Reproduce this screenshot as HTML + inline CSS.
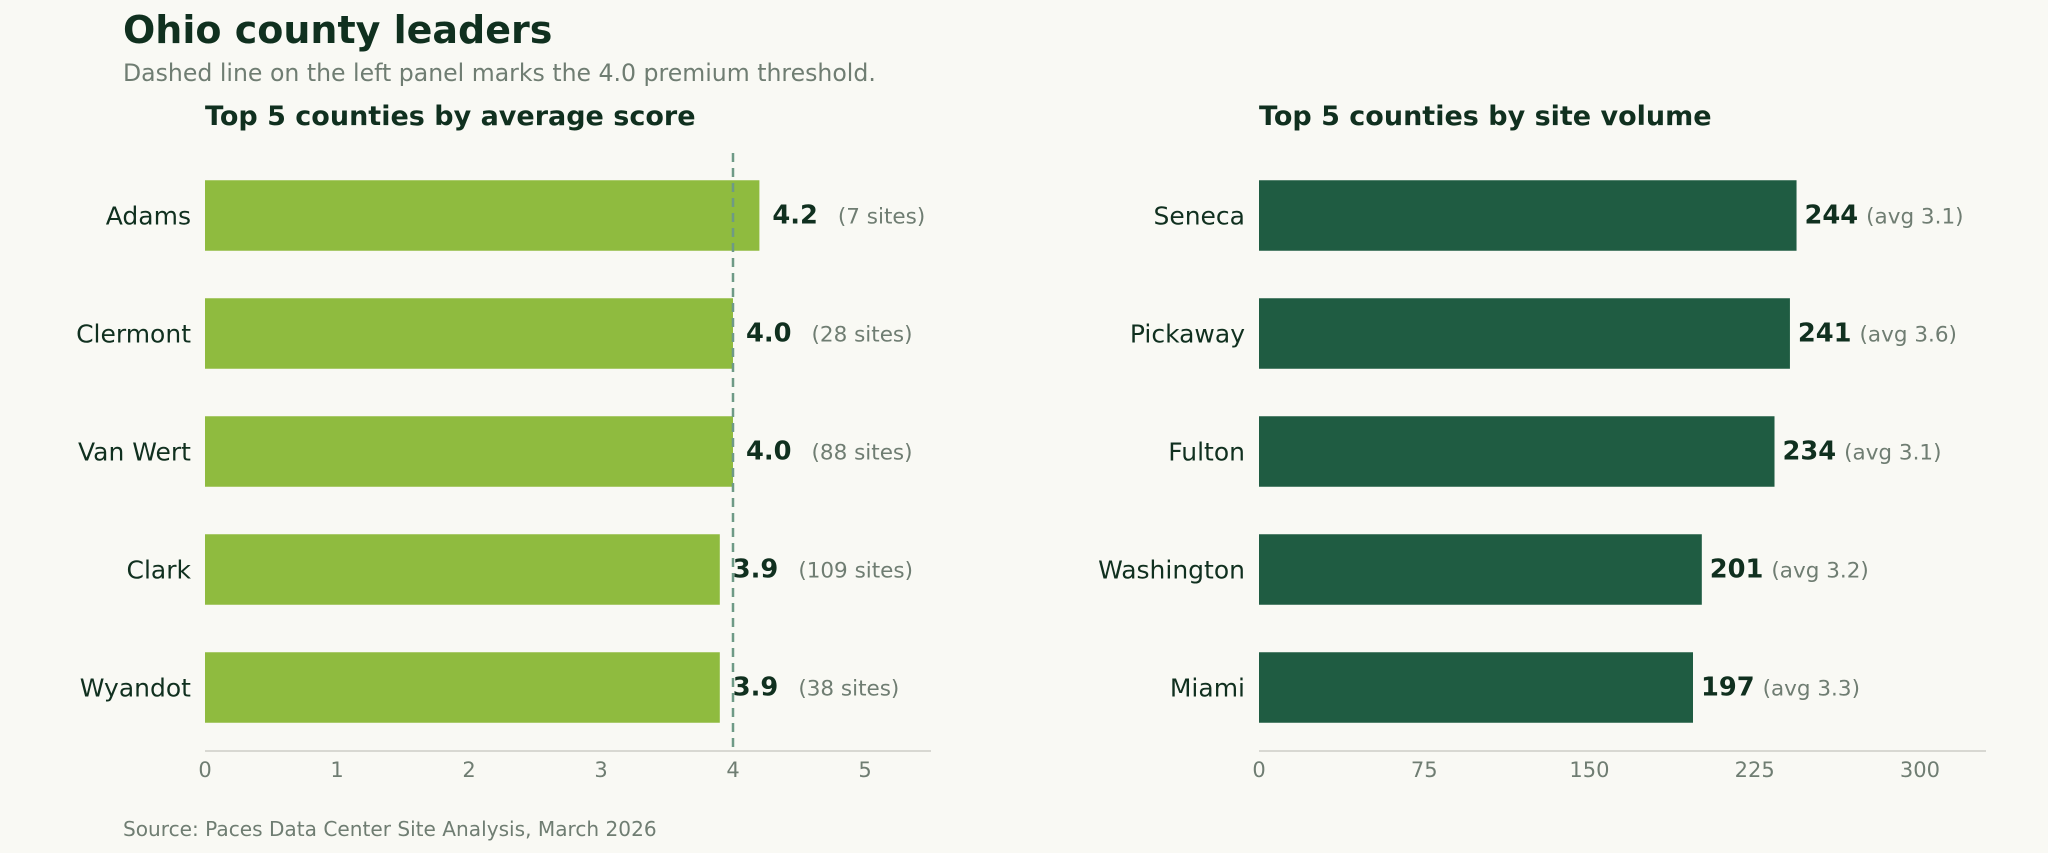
<!DOCTYPE html>
<html><head><meta charset="utf-8"><style>
body{margin:0;background:#f9f9f4;}
svg{display:block;font-family:"DejaVu Sans","Liberation Sans",sans-serif;}
</style></head><body>
<svg id="c" width="2048" height="853" viewBox="0 0 2048 853">
<rect width="2048" height="853" fill="#f9f9f4"/>
<text x="123" y="43" font-size="38" font-weight="bold" fill="#10301f">Ohio county leaders</text>
<text x="123" y="81" font-size="23.6" fill="#6f7d72">Dashed line on the left panel marks the 4.0 premium threshold.</text>
<text x="205" y="125" font-size="27" font-weight="bold" fill="#10301f">Top 5 counties by average score</text>
<text x="1259" y="125" font-size="27" font-weight="bold" fill="#10301f">Top 5 counties by site volume</text>
<text x="123" y="836" font-size="20.1" fill="#6f7d72">Source: Paces Data Center Site Analysis, March 2026</text>
<g id="left"></g>
<g id="right"></g>
</svg>
<script>
const scoreCounties=["Adams","Clermont","Van Wert","Clark","Wyandot"];
const scoreValues=[4.2,4.0,4.0,3.9,3.9];
const scoreSites=[7,28,88,109,38];
const scoreTicks=[0,1,2,3,4,5];
const threshold=4.0;
const volCounties=["Seneca","Pickaway","Fulton","Washington","Miami"];
const volValues=[244,241,234,201,197];
const volAvg=[3.1,3.6,3.1,3.2,3.3];
const volTicks=[0,75,150,225,300];
const NS="http://www.w3.org/2000/svg";
function mk(p,tag,attrs,txt){const e=document.createElementNS(NS,tag);for(const k in attrs)e.setAttribute(k,attrs[k]);if(txt!==undefined)e.textContent=txt;p.appendChild(e);return e;}
const rowY=i=>215.5+i*118;
const barH=70.5, axisY=751;
function panel(g,x0,x1,xmax,cats,vals,color,lbl,note,gapVal,ticks,sep){
  const xs=v=>x0+v*(x1-x0)/xmax;
  cats.forEach((c,i)=>{
    const y=rowY(i);
    const r=mk(g,"rect",{x:x0,y:y-barH/2,width:xs(vals[i])-x0,height:barH,fill:color});
    
    
    const t=mk(g,"text",{x:x0-14,y:y+9,"text-anchor":"end","font-size":25,fill:"#10301f"},c);
    
    
    const v=mk(g,"text",{x:xs(vals[i])+gapVal,y:y+8,"font-size":25.7,"font-weight":"bold",fill:"#10301f"});
    
    
    mk(v,"tspan",{},lbl(vals[i]));
    mk(v,"tspan",{dx:sep,"font-size":21.5,"font-weight":"normal",fill:"#6f7d72"},note(i));
  });
  const a=mk(g,"line",{x1:x0,x2:x1,y1:axisY,y2:axisY,stroke:"#d8d8d2","stroke-width":2});
  
  
  ticks.forEach(tk=>{
    const t=mk(g,"text",{x:xs(tk),y:777,"text-anchor":"middle","font-size":21,fill:"#6f7d72"},String(tk));
    
    
  });
  return xs;
}
const L=document.getElementById("left"),R=document.getElementById("right");
const xsL=panel(L,205,931,5.5,scoreCounties,scoreValues,"#8fbb3f",v=>v.toFixed(1),i=>"("+scoreSites[i]+" sites)",13,scoreTicks,20);
const d=mk(L,"line",{x1:xsL(threshold),x2:xsL(threshold),y1:153,y2:axisY,stroke:"#6e9a86","stroke-width":2.5,"stroke-dasharray":"9,6"});


panel(R,1259,1986,330,volCounties,volValues,"#1f5c42",v=>String(v),i=>"(avg "+volAvg[i].toFixed(1)+")",8,volTicks,8);
</script>
</body></html>
